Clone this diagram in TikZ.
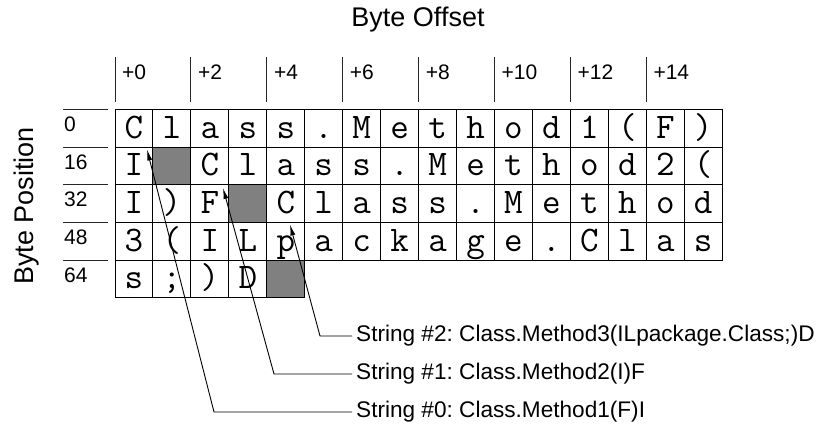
\documentclass[tikz,border=0pt]{standalone}
\usepackage{fontspec}
\setmainfont{Liberation Sans}
\usetikzlibrary{arrows.meta}
\definecolor{shade}{RGB}{128,128,128}
\frenchspacing
\tikzset{
  cell/.style={draw=black, line width=1pt, minimum width=37.95pt, minimum height=37.65pt,
    inner sep=0pt, text height=28.8pt, text depth=8.85pt, font=\fontsize{36}{36}\selectfont\ttfamily},
  shadecell/.style={cell, fill=shade},
  axistitle/.style={font=\fontsize{27}{27}\selectfont, inner sep=0pt},
  ticklabel/.style={font=\fontsize{21}{21}\selectfont, inner sep=0pt, anchor=base west},
  rule/.style={line width=1pt, draw=black!85},
  strlabel/.style={font=\fontsize{22.6}{22.6}\selectfont\frenchspacing, anchor=west, inner sep=4pt},
  pointer/.style={line width=0.9pt, -{Latex[length=11pt,width=5pt]}},
}
\begin{document}
\begin{tikzpicture}[x=1pt,y=-1pt]
\useasboundingbox (0,0) rectangle (819,428);
% titles
\node[axistitle, anchor=base] (offset) at (418,27) {Byte Offset};
\node[axistitle, anchor=base, rotate=90] (position) at (33,206) {Byte Position};
% column ticks
\foreach \k/\lab in {0/+0,1/+2,2/+4,3/+6,4/+8,5/+10,6/+12,7/+14}{
  \coordinate (tt\k) at ({115+2*\k*37.95},57);
  \coordinate (tb\k) at ({115+2*\k*37.95},101.5);
  \draw[rule] (tt\k) -- (tb\k);
  \node[ticklabel] (tl\k) at ({115+2*\k*37.95+7},80) {\lab};
}
% row labels
\foreach \r/\lab in {0/0,1/16,2/32,3/48,4/64}{
  \coordinate (rl\r) at (63,{109.5+\r*37.65});
  \coordinate (rr\r) at (108,{109.5+\r*37.65});
  \draw[rule] (rl\r) -- (rr\r);
  \node[ticklabel] (rt\r) at (64,{109.5+\r*37.65+22}) {\lab};
}
% cells
\foreach \ch [count=\i from 0] in {C,l,a,s,s,.,M,e,t,h,o,d,1,{(},F,{)}}
  \node[cell] (c0-\i) at ({115+(\i+0.5)*37.95},{109.5+0.5*37.65}) {\ch};
\foreach \ch [count=\i from 0] in {I,{},C,l,a,s,s,.,M,e,t,h,o,d,2,{(}}
  \node[cell] (c1-\i) at ({115+(\i+0.5)*37.95},{109.5+1.5*37.65}) {\ch};
\foreach \ch [count=\i from 0] in {I,{)},F,{},C,l,a,s,s,.,M,e,t,h,o,d}
  \node[cell] (c2-\i) at ({115+(\i+0.5)*37.95},{109.5+2.5*37.65}) {\ch};
\foreach \ch [count=\i from 0] in {3,{(},I,L,p,a,c,k,a,g,e,.,C,l,a,s}
  \node[cell] (c3-\i) at ({115+(\i+0.5)*37.95},{109.5+3.5*37.65}) {\ch};
\foreach \ch [count=\i from 0] in {s,{;},{)},D,{}}
  \node[cell] (c4-\i) at ({115+(\i+0.5)*37.95},{109.5+4.5*37.65}) {\ch};
% padding cells
\node[shadecell] (g1) at (c1-1) {};
\node[shadecell] (g2) at (c2-3) {};
\node[shadecell] (g3) at (c4-4) {};
% string labels
\node[strlabel] (s2) at (352,336) {String \#2: Class.Method3(ILpackage.Class;)D};
\node[strlabel] (s1) at (352,374) {String \#1: Class.Method2(I)F};
\node[strlabel] (s0) at (352,412) {String \#0: Class.Method1(F)I};
% pointer geometry
\coordinate (k2) at (320,336);
\coordinate (k1) at (274,374);
\coordinate (k0) at (214,412);
\coordinate (p2) at (290,224.5);
\coordinate (p1) at (223,188);
\coordinate (p0) at (147,149.5);
\draw[pointer] (s2.west) -- (k2) -- (p2);
\draw[pointer] (s1.west) -- (k1) -- (p1);
\draw[pointer] (s0.west) -- (k0) -- (p0);
\end{tikzpicture}
\end{document}
